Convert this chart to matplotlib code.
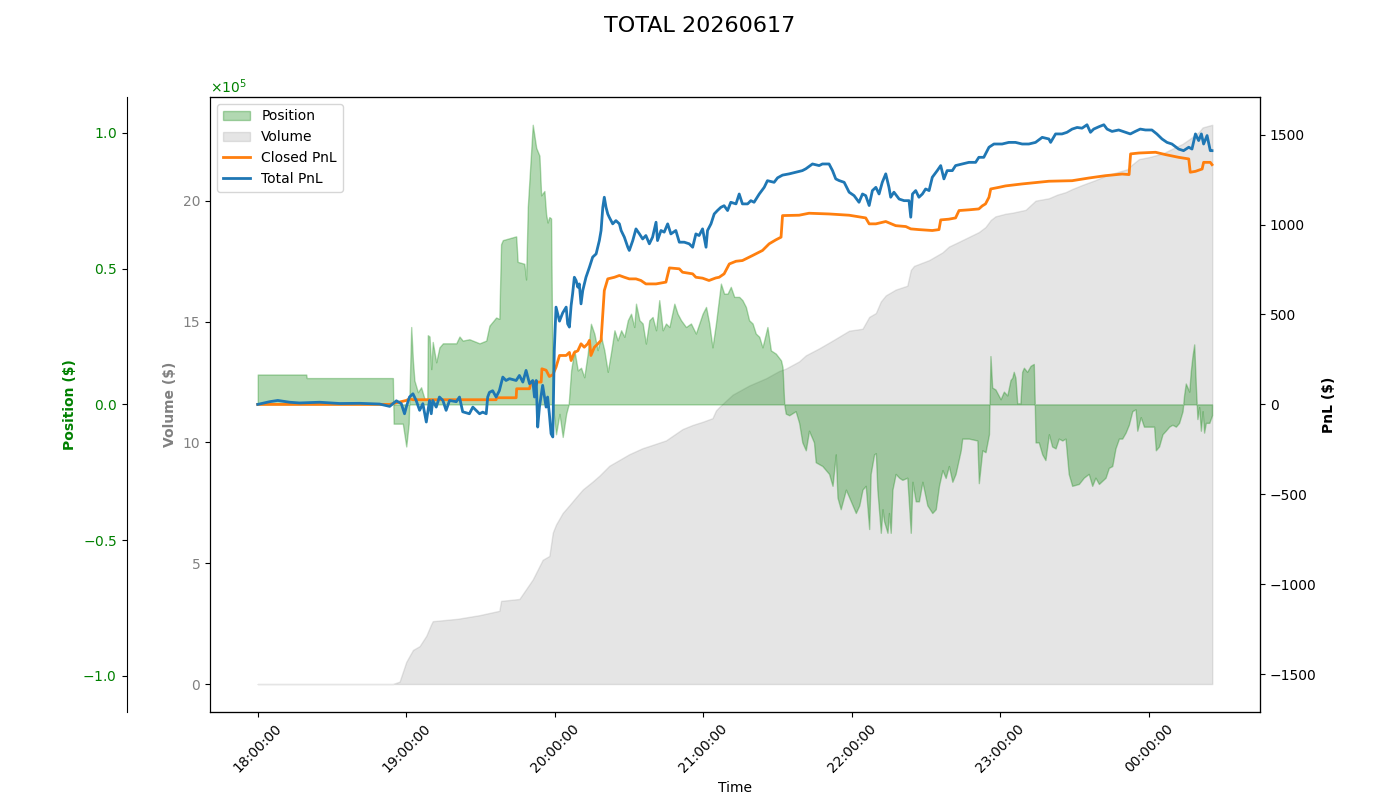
import numpy as np
import pandas as pd
import matplotlib
matplotlib.use("Agg")
import matplotlib.pyplot as plt
import matplotlib.dates as mdates
from matplotlib.ticker import ScalarFormatter

title = "TOTAL 20260617"
start = pd.Timestamp("2026-06-17 18:00:00")

# ---- Position ($): minutes since 18:00, value
pos_t = [0, 19.6, 19.8, 54.6, 54.9, 58.6, 60.0, 61.0, 62.0, 62.7, 63.3, 64.7, 66.0, 67.4, 68.5, 68.7,
         69.4, 70.1, 70.7, 72.1, 73.4, 74.8, 80.2, 81.5, 82.8, 85.5, 89.6, 92.3, 93.6, 96.3, 97.6,
         98.3, 99.0, 104.4, 105.0, 107.7, 108.4, 109.1, 111.1, 112.5, 113.8, 114.5, 115.8, 116.5,
         117.1, 117.8, 118.5, 119.2, 120.5, 121.9, 123.2, 124.6, 125.6, 126.6, 127.9, 129.3, 130.6,
         131.9, 133.3, 134.6, 136.0, 137.3, 138.7, 140.0, 141.4, 142.7, 144.1, 145.4, 146.8, 148.1,
         149.5, 150.8, 152.1, 152.8, 154.2, 155.5, 156.8, 158.2, 159.5, 160.9, 162.2, 163.6, 164.9,
         166.3, 168.3, 169.6, 171.0, 173.0, 175.0, 177.0, 179.7, 181.1, 182.4, 183.7, 185.1, 187.1,
         188.4, 189.8, 191.1, 192.5, 194.5, 195.8, 197.2, 198.5, 199.9, 201.2, 202.6, 203.9, 205.9,
         207.3, 209.3, 211.4, 212.0, 212.7, 213.3, 214.7, 217.3, 218.7, 220.0, 221.4, 222.7, 224.7,
         225.4, 228.1, 230.8, 232.2, 233.5, 234.2, 235.5, 237.6, 239.6, 241.6, 243.0, 244.3, 245.6,
         247.0, 247.6, 249.0, 249.7, 250.3, 251.7, 252.4, 253.0, 254.4, 255.0, 255.7, 256.4, 257.7,
         259.1, 260.4, 262.4, 263.8, 264.5, 265.8, 267.1, 268.5, 270.5, 272.5, 273.9, 275.2, 276.6,
         277.9, 279.2, 280.6, 281.9, 284.0, 284.6, 287.3, 290.7, 291.3, 292.7, 294.0, 295.4, 296.0,
         296.7, 298.0, 300.1, 301.4, 302.8, 304.1, 304.8, 305.4, 306.1, 306.8, 308.1, 308.8, 309.5,
         310.8, 312.2, 313.5, 313.9, 314.2, 315.5, 316.9, 318.2, 319.6, 320.9, 322.3, 323.6, 325.0,
         326.3, 327.6, 329.0, 331.7, 333.7, 335.7, 337.1, 338.4, 339.8, 342.5, 343.8, 345.2, 346.5,
         347.9, 349.2, 350.6, 351.9, 353.3, 354.6, 355.3, 356.7, 358.0, 360.0, 362.1, 362.8, 364.1,
         365.5, 366.8, 368.2, 369.5, 370.9, 372.2, 373.6, 374.2, 374.9, 376.3, 376.9, 377.6, 378.3,
         379.0, 379.6, 380.3, 381.0, 381.7, 382.3, 383.0, 384.4, 385.5]
pos_v = [11000, 11000, 9700, 9700, -7100, -7100, -15500, -7000, 28500, 16000, 8800, 4500, 6300,
         2000, 2000, 25500, 25000, 13000, 23000, 15500, 21000, 22500, 22500, 25000, 23500, 24000,
         22500, 23500, 29000, 32000, 31500, 59000, 60500, 61900, 52500, 51800, 46000, 72800, 103000,
         94500, 91600, 77000, 78600, 70000, 67000, 69000, 68500, 0, -11000, -3500, -12000, -3500, 0,
         12500, 20000, 12500, 13500, 10000, 18700, 29700, 26000, 20000, 25000, 20000, 12000, 19000,
         27300, 23600, 27300, 24900, 31000, 33400, 28500, 37100, 31000, 29800, 22400, 31000, 32200,
         27300, 38400, 27300, 29800, 28500, 37100, 33400, 31000, 28500, 29800, 26100, 33400, 35900,
         29800, 21000, 29800, 44500, 40800, 40800, 43300, 39600, 39600, 38400, 35900, 31000, 29800,
         26100, 24900, 21000, 28500, 19900, 18700, 16200, 13700, 0, -3400, -4000, -2500, -6800,
         -14000, -16900, -9700, -14000, -21300, -22700, -25600, -30000, -18400, -34300, -38600,
         -31400, -35700, -40000, -37200, -31400, -30000, -45900, -25600, -18400, -18000, -31400,
         -47300, -38600, -43000, -47300, -40000, -47300, -31400, -25600, -27000, -27800, -27000,
         -47300, -28500, -35700, -35700, -28500, -37200, -40000, -38600, -30000, -24200, -27100,
         -22700, -28500, -25600, -16900, -12600, -12600, -13300, -29000, -16900, -17600, -11000,
         17800, 6200, 5500, 1900, 4700, 3300, 9000, 9800, 12000, 9800, 400, 400, 12000, 13500, 12000,
         14200, 14900, 0, -14000, -14000, -18400, -20500, -11000, -15500, -16200, -12600, -13300,
         -12600, -25600, -30000, -29300, -27000, -25600, -30000, -27000, -29300, -27000, -23400,
         -22700, -16200, -12600, -12600, -10400, -7500, -2500, -1800, -9700, -4700, -8200, -8200,
         -8200, -16900, -15500, -11000, -9700, -8200, -7500, -8200, -6800, -2500, 3300, 7700, 4700,
         12000, 17800, 22100, 6200, -5400, -1000, -9700, -2500, -10400, -6800, -6800, -4000]

# ---- Volume ($)
vol_t = [0, 54.6, 57.3, 60.0, 62.7, 65.4, 68.1, 70.0, 70.7, 80.8, 89.6, 97.6, 98.3, 105.7, 111.1,
         115.1, 117.8, 119.2, 120.5, 123.2, 125.9, 128.6, 131.3, 135.3, 138.0, 142.0, 144.7, 150.1,
         155.5, 158.2, 164.9, 171.6, 175.7, 179.7, 183.7, 185.1, 186.4, 191.8, 198.5, 205.3, 210.6,
         213.3, 218.7, 221.4, 226.8, 232.2, 238.9, 244.3, 247.0, 249.7, 251.7, 253.7, 257.7, 262.4,
         263.8, 265.1, 271.2, 273.9, 276.6, 279.2, 283.3, 287.3, 291.3, 294.0, 296.1, 298.0, 302.1,
         304.8, 310.2, 314.2, 319.6, 323.0, 326.3, 329.0, 333.1, 338.4, 342.5, 347.9, 351.3, 353.3,
         356.0, 360.0, 365.5, 369.3, 373.6, 377.4, 380.3, 381.7, 385.6]
vol_v = [0, 0, 0.1, 0.92, 1.41, 1.57, 2.0, 2.46, 2.6, 2.7, 2.85, 3.03, 3.44, 3.52, 4.33, 5.14, 5.3,
         6.27, 6.6, 7.08, 7.4, 7.73, 8.05, 8.38, 8.62, 9.03, 9.19, 9.51, 9.76, 9.85, 10.08, 10.55,
         10.72, 10.85, 11.0, 11.32, 11.46, 11.97, 12.35, 12.65, 12.95, 13.05, 13.35, 13.6, 13.89,
         14.21, 14.62, 14.7, 15.19, 15.35, 15.83, 16.08, 16.32, 16.48, 17.13, 17.3, 17.54, 17.7,
         17.86, 18.1, 18.3, 18.5, 18.7, 18.91, 19.2, 19.35, 19.46, 19.5, 19.62, 20.0, 20.1, 20.25,
         20.35, 20.48, 20.65, 20.85, 21.03, 21.2, 21.3, 21.5, 21.72, 21.8, 21.95, 22.14, 22.35,
         22.62, 22.85, 23.03, 23.14]

# ---- Closed PnL ($)
closed_t = [0, 53.3, 60.0, 61.3, 62.7, 96.3, 96.5, 104.4, 104.6, 109.8, 110.4, 114.5, 114.8, 116.5,
            117.8, 119.2, 120.5, 121.9, 124.6, 125.9, 126.6, 127.9, 129.3, 130.6, 131.9, 133.3,
            134.0, 134.6, 136.0, 137.4, 138.7, 139.4, 140.0, 141.4, 144.1, 146.1, 148.1, 150.1,
            152.8, 154.8, 156.8, 160.9, 164.9, 166.3, 170.3, 171.6, 175.7, 177.0, 179.7, 182.3,
            185.0, 186.4, 188.4, 190.5, 193.2, 195.8, 199.9, 203.9, 206.6, 209.3, 211.4, 212.0,
            218.7, 222.7, 230.8, 238.9, 245.6, 247.0, 249.7, 253.7, 257.7, 261.8, 263.8, 267.1,
            272.5, 275.2, 275.9, 279.2, 281.9, 283.3, 287.3, 291.3, 292.7, 294.0, 295.4, 296.1,
            299.4, 302.1, 308.8, 319.6, 329.0, 335.8, 342.5, 349.2, 352.0, 352.6, 356.0, 362.7,
            366.7, 372.0, 376.1, 376.7, 378.8, 381.5, 382.1, 384.8, 385.5]
closed_v = [0, 0, 22, 31, 26, 26, 37, 37, 87, 87, 124, 124, 198, 190, 155, 165, 207, 272, 272, 289,
            244, 289, 298, 337, 318, 337, 356, 272, 318, 337, 356, 504, 633, 698, 707, 717, 707, 698,
            698, 689, 670, 670, 680, 759, 754, 735, 726, 707, 702, 689, 703, 707, 726, 781, 796, 800,
            828, 856, 893, 915, 930, 1050, 1052, 1063, 1059, 1052, 1037, 1004, 1004, 1017, 994, 989,
            976, 972, 967, 972, 1026, 1030, 1037, 1078, 1082, 1087, 1104, 1115, 1152, 1198, 1207,
            1215, 1226, 1241, 1244, 1259, 1272, 1281, 1278, 1393, 1398, 1402, 1389, 1374, 1365, 1291,
            1296, 1309, 1346, 1346, 1333]

# ---- Total PnL ($)
total_t = [0, 4.8, 8.1, 12.9, 16.9, 25.0, 33.1, 41.2, 49.2, 53.3, 56.0, 58.0, 59.3, 60.0, 61.3, 62.7,
           64.0, 65.4, 66.7, 68.1, 69.4, 70.1, 70.7, 72.1, 73.4, 74.8, 76.1, 77.5, 80.2, 81.5, 82.8,
           85.5, 86.9, 89.6, 90.9, 92.3, 92.9, 93.6, 94.9, 96.3, 97.6, 99.0, 100.3, 101.7, 104.4,
           105.7, 107.1, 108.4, 109.8, 111.1, 111.8, 112.5, 113.1, 113.8, 115.1, 116.5, 117.1, 117.8,
           118.5, 119.2, 119.8, 120.5, 121.9, 123.2, 124.6, 125.2, 125.9, 126.6, 127.2, 127.9, 128.6,
           129.3, 129.9, 130.6, 131.3, 132.6, 134.0, 135.3, 136.7, 138.0, 138.7, 139.4, 140.0, 140.7,
           141.4, 142.0, 143.4, 144.7, 146.1, 146.8, 148.1, 149.5, 150.1, 151.5, 152.8, 154.2, 155.5,
           156.8, 158.2, 159.5, 160.9, 161.5, 162.9, 164.2, 165.6, 166.9, 168.9, 170.3, 172.3, 174.3,
           175.7, 177.0, 178.3, 179.7, 181.1, 181.7, 183.1, 184.4, 185.7, 187.1, 188.4, 189.8, 191.1,
           193.2, 194.5, 195.8, 197.9, 199.2, 200.5, 202.6, 204.6, 205.9, 208.6, 210.0, 212.0, 214.7,
           217.4, 220.0, 221.4, 224.1, 226.8, 228.1, 230.8, 232.2, 233.5, 234.8, 236.9, 238.9, 240.9,
           242.9, 244.3, 245.6, 247.0, 248.3, 249.7, 251.0, 252.3, 253.7, 255.0, 255.7, 257.0, 259.1,
           261.1, 263.1, 263.8, 264.5, 265.8, 267.1, 268.5, 269.8, 271.2, 272.5, 274.5, 275.9, 277.2,
           278.5, 280.6, 281.9, 284.6, 287.3, 290.0, 291.3, 293.3, 295.4, 297.4, 300.7, 303.4, 306.1,
           308.8, 311.5, 314.2, 316.9, 319.6, 320.3, 322.3, 324.9, 326.9, 329.0, 331.0, 333.0, 335.0,
           336.4, 337.7, 339.8, 341.8, 343.1, 345.1, 347.8, 350.5, 352.5, 354.5, 356.5, 358.6, 361.2,
           363.2, 365.3, 367.3, 369.3, 372.0, 374.0, 376.1, 377.4, 378.8, 380.1, 381.2, 382.1, 383.5,
           384.1, 384.8, 385.5]
total_v = [0, 15, 22, 12, 8, 12, 5, 6, 2, -11, 20, 4, -52, -15, 41, 59, 22, -33, 4, -98, 22, -52, 22,
           -15, 41, 22, -33, 22, 15, 41, -41, -52, -15, -52, -43, -52, 41, 67, 76, 41, 76, 152, 133,
           143, 133, 161, 124, 189, 115, 133, 41, 133, -126, -15, 106, -15, 41, -52, -163, -181, 300,
           541, 463, 509, 541, 448, 430, 550, 615, 707, 689, 652, 670, 559, 633, 707, 763, 819, 837,
           911, 967, 1096, 1152, 1096, 1059, 1041, 1004, 1022, 1004, 967, 930, 874, 856, 911, 976,
           948, 920, 939, 893, 930, 1013, 911, 967, 958, 1004, 948, 967, 902, 902, 893, 874, 948, 939,
           976, 874, 967, 1004, 1059, 1078, 1096, 1105, 1078, 1124, 1115, 1170, 1115, 1115, 1133,
           1124, 1170, 1207, 1244, 1235, 1260, 1275, 1282, 1291, 1300, 1310, 1337, 1328, 1337, 1337,
           1300, 1254, 1245, 1235, 1180, 1161, 1124, 1170, 1161, 1106, 1189, 1207, 1170, 1235, 1282,
           1207, 1152, 1180, 1142, 1133, 1133, 1041, 1170, 1189, 1152, 1170, 1198, 1189, 1263, 1300,
           1328, 1254, 1300, 1300, 1328, 1337, 1346, 1346, 1374, 1374, 1430, 1448, 1448, 1457, 1457,
           1448, 1448, 1457, 1485, 1476, 1457, 1504, 1504, 1513, 1531, 1540, 1536, 1555, 1513, 1531,
           1544, 1555, 1531, 1518, 1526, 1513, 1504, 1518, 1531, 1526, 1526, 1504, 1476, 1457, 1448,
           1420, 1411, 1430, 1420, 1504, 1467, 1504, 1448, 1495, 1457, 1411, 1411]


def to_time(minutes):
    return start + pd.to_timedelta(np.asarray(minutes, dtype=float), unit="min")


fig = plt.figure(figsize=(14, 8), dpi=100)
fig.subplots_adjust(left=0.15, right=0.9, top=0.879, bottom=0.11)
ax = fig.add_subplot(111)

# Volume (base axis)
ax.fill_between(to_time(vol_t), vol_v, 0, color="gray", alpha=0.2, label="Volume")
ax.set_ylabel("Volume ($)", color="gray", fontweight="bold")
ax.tick_params(axis="y", labelcolor="gray")

# Position (offset left axis)
axp = ax.twinx()
axp.spines["left"].set_position(("outward", 60))
axp.spines["left"].set_visible(True)
axp.yaxis.set_label_position("left")
axp.yaxis.set_ticks_position("left")
axp.fill_between(to_time(pos_t), pos_v, 0, color="green", alpha=0.3, label="Position")
pm = np.max(np.abs(pos_v)) * 1.1
axp.set_ylim(-pm, pm)
fmt = ScalarFormatter(useMathText=True)
fmt.set_powerlimits((0, 0))
axp.yaxis.set_major_formatter(fmt)
axp.set_ylabel("Position ($)", color="green", fontweight="bold")
axp.tick_params(axis="y", labelcolor="green")
axp.yaxis.get_offset_text().set_color("green")

# PnL (right axis)
axr = ax.twinx()
l1, = axr.plot(to_time(closed_t), closed_v, color="tab:orange", lw=2, label="Closed PnL")
l2, = axr.plot(to_time(total_t), total_v, color="tab:blue", lw=2, label="Total PnL")
rm = max(np.max(np.abs(closed_v)), np.max(np.abs(total_v))) * 1.1
axr.set_ylim(-rm, rm)
axr.set_ylabel("PnL ($)", fontweight="bold")

ax.xaxis.set_major_locator(mdates.HourLocator())
ax.xaxis.set_major_formatter(mdates.DateFormatter("%H:%M:%S"))
for lbl in ax.get_xticklabels():
    lbl.set_rotation(45)
ax.set_xlabel("Time")

h1, lab1 = axp.get_legend_handles_labels()
h0, lab0 = ax.get_legend_handles_labels()
axr.legend(h1 + h0 + [l1, l2], lab1 + lab0 + ["Closed PnL", "Total PnL"], loc="upper left")

fig.suptitle(title, fontsize=16)
fig.savefig("out.png", dpi=100)
